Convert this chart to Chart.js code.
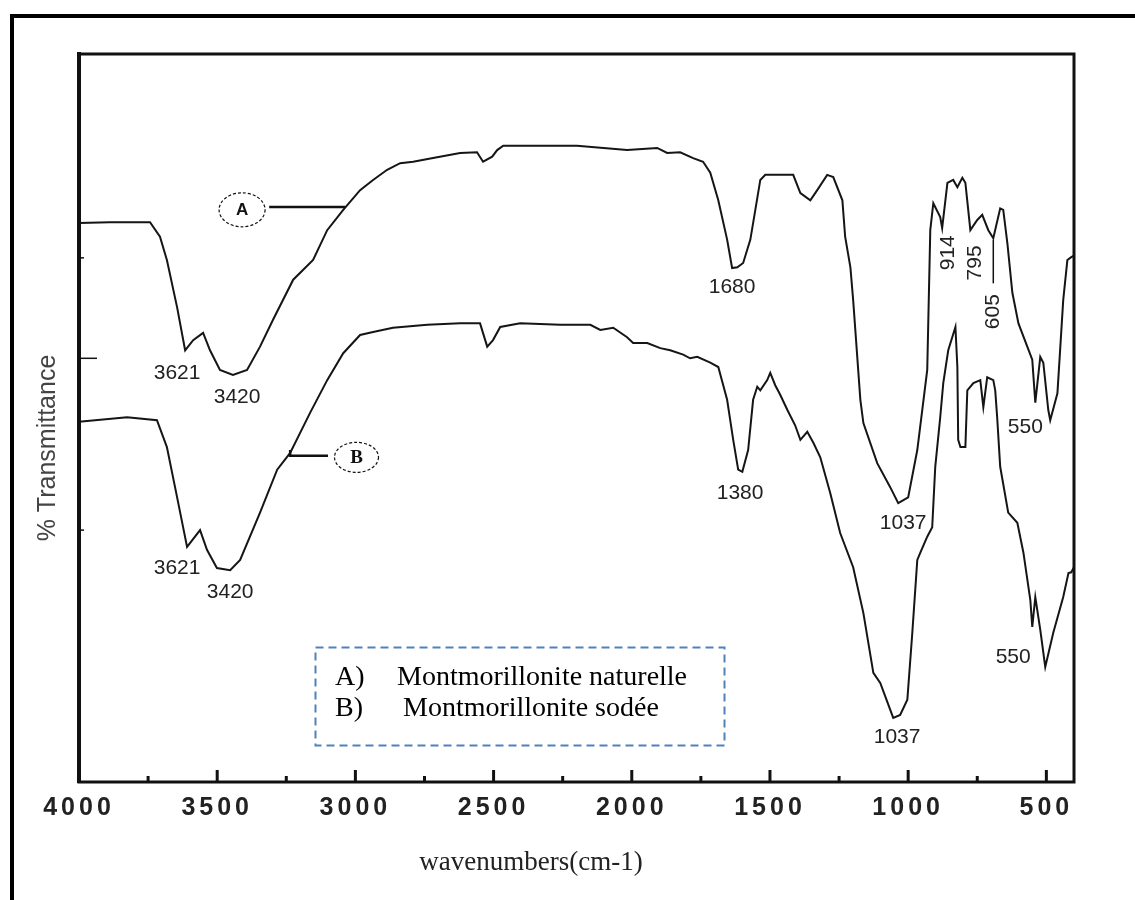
<!DOCTYPE html>
<html>
<head>
<meta charset="utf-8">
<script src="https://cdn.jsdelivr.net/npm/chart.js@4.4.1/dist/chart.umd.min.js"></script>
<style>
html,body{margin:0;padding:0;background:#fff}
#wrap{position:relative;width:1135px;height:900px}
</style>
</head>
<body>
<div id="wrap"><canvas id="c"></canvas></div>
<script>
/* Spectre IR — montmorillonite naturelle (A) / sodée (B) */

var waveA  = [4000,3888,3743,3707,3682,3645,3616,3587,3551,3526,3490,3443,3392,3345,3298,3225,3153,3102,3044,2983,
              2936,2885,2838,2791,2719,2621,2560,2538,2505,2487,2465,2321,2198,2017,1908,1872,1825,1778,1742,1716,
              1687,1655,1637,1618,1597,1571,1553,1535,1517,1416,1390,1354,1329,1293,1271,1238,1228,1209,1199,1173,
              1162,1112,1065,1036,1000,967,931,920,909,884,877,858,837,822,804,793,775,750,732,710,
              692,667,656,641,623,601,569,551,540,522,511,493,486,460,439,424,410,400];
var transA = [76.8,76.9,76.9,74.9,71.7,65.2,59.3,60.7,61.7,59.3,56.6,55.9,56.6,59.8,63.5,69.0,71.7,75.8,78.6,81.3,
              82.7,84.1,85.0,85.2,85.7,86.4,86.5,85.2,85.9,86.8,87.4,87.4,87.4,86.8,87.1,86.4,86.5,85.7,85.2,83.7,
              79.9,74.5,70.6,70.7,71.3,74.5,78.6,82.7,83.4,83.4,80.9,79.9,81.3,83.4,83.1,79.9,74.9,70.7,66.2,52.5,
              49.3,43.8,40.5,38.3,39.1,45.6,56.6,75.8,79.5,77.6,76.1,82.3,82.7,81.7,83.0,82.3,75.8,77.2,77.9,75.8,
              74.7,78.8,78.6,74.0,67.2,63.0,59.8,58.0,52.1,58.4,57.6,51.1,49.7,53.4,66.2,71.7,72.1,72.3];

var waveB  = [4000,3826,3718,3682,3645,3609,3562,3537,3501,3453,3417,3345,3283,3236,3164,3102,3044,2983,2936,2864,
              2740,2621,2549,2523,2502,2476,2404,2259,2150,2114,2067,2017,1995,1944,1897,1861,1814,1789,1763,1716,
              1687,1655,1633,1615,1600,1579,1561,1546,1535,1510,1499,1481,1463,1437,1409,1390,1365,1343,1318,1282,
              1246,1199,1162,1126,1101,1054,1029,1003,985,967,956,931,913,902,884,873,855,829,822,819,
              811,793,786,764,739,728,714,692,685,678,667,638,605,583,558,551,540,522,504,475,
              439,420,410,400];
var transB = [49.5,50.1,49.7,46.0,39.1,32.3,34.6,31.9,29.4,29.1,30.5,37.0,42.9,45.2,50.7,55.2,58.9,61.4,61.8,62.4,
              62.8,63.0,63.0,59.8,60.7,62.5,63.0,62.8,62.8,62.1,62.4,61.1,60.3,60.3,59.6,59.3,58.7,58.2,58.4,57.6,
              57.0,52.5,47.0,42.9,42.6,45.6,52.5,54.3,53.8,55.2,56.2,54.5,53.2,51.1,49.0,47.0,48.1,46.6,44.6,39.7,
              34.2,29.5,23.2,15.0,13.6,8.8,9.2,11.3,20.5,30.5,31.5,33.7,35.0,43.3,50.1,54.8,59.3,62.5,57.0,47.0,
              46.0,46.0,53.8,54.8,55.2,51.5,55.6,55.2,53.8,50.1,43.3,37.0,35.6,31.5,25.0,21.3,25.4,20.9,15.8,20.5,
              25.4,28.7,28.8,29.5];

var xTicks      = [4000,3500,3000,2500,2000,1500,1000,500];
var xMinorTicks = [3750,3250,2750,2250,1750,1250,750];
var yMajorTicks = [58.2];
var yMinorTicks = [72.0,34.6];

var xTitle = 'wavenumbers(cm-1)';
var yTitle = '% Transmittance';
var legendLines = [['A)','Montmorillonite naturelle'],['B)','Montmorillonite sodée']];

// étiquettes des bandes : [texte, nombre d'onde, %T, vertical?]
var peakLabels = [
  ['3621',3645,56.2,false],['3420',3428,52.9,false],
  ['3621',3645,29.4,false],['3420',3453,26.1,false],
  ['1680',1637,68.0,false],['1380',1608,39.7,false],
  ['1037',1018,35.6,false],['1037',1040,6.2,false],
  ['914',855,72.7,true],['795',757,71.3,true],['605',692,64.6,true],
  ['550',576,48.8,false],['550',620,17.2,false]
];

function pts(w,t){ return w.map(function(x,i){ return {x:x, y:t[i]}; }); }

var deco = {
  id:'deco',
  beforeDraw:function(chart){ chart.ctx.letterSpacing = '4px'; },
  beforeDatasetsDraw:function(chart){ chart.ctx.letterSpacing = '0px'; },
  afterDraw:function(chart){
    var ctx = chart.ctx, ca = chart.chartArea;
    var X = function(w){ return chart.scales.x.getPixelForValue(w); };
    var Y = function(v){ return chart.scales.y.getPixelForValue(v); };
    ctx.save();
    ctx.letterSpacing = '0px';
    // cadre extérieur (gauche + haut)
    ctx.fillStyle = '#000';
    ctx.fillRect(10,14,1125,4);
    ctx.fillRect(10,14,4,886);
    // cadre du graphe
    ctx.strokeStyle = '#111';
    ctx.lineWidth = 3;
    ctx.strokeRect(ca.left, ca.top, ca.right-ca.left, ca.bottom-ca.top);
    ctx.lineWidth = 4;
    ctx.beginPath(); ctx.moveTo(ca.left, ca.top-2); ctx.lineTo(ca.left, ca.bottom+1); ctx.stroke();
    // graduations vers l'intérieur
    ctx.lineWidth = 3;
    xTicks.forEach(function(v){ ctx.beginPath(); ctx.moveTo(X(v),ca.bottom); ctx.lineTo(X(v),ca.bottom-12); ctx.stroke(); });
    xMinorTicks.forEach(function(v){ ctx.beginPath(); ctx.moveTo(X(v),ca.bottom); ctx.lineTo(X(v),ca.bottom-6); ctx.stroke(); });
    ctx.lineWidth = 1.5;
    yMajorTicks.forEach(function(v){ ctx.beginPath(); ctx.moveTo(ca.left,Y(v)); ctx.lineTo(ca.left+18,Y(v)); ctx.stroke(); });
    yMinorTicks.forEach(function(v){ ctx.beginPath(); ctx.moveTo(ca.left,Y(v)); ctx.lineTo(ca.left+5,Y(v)); ctx.stroke(); });

    // titres d'axes
    ctx.fillStyle = '#222';
    ctx.font = '27px "Liberation Serif"';
    ctx.textAlign = 'center'; ctx.textBaseline = 'alphabetic';
    ctx.fillText(xTitle, 531, 870);
    ctx.save();
    ctx.translate(48, 448); ctx.rotate(-Math.PI/2);
    ctx.font = '25px "Liberation Sans"'; ctx.fillStyle = '#444';
    ctx.textBaseline = 'middle';
    ctx.fillText(yTitle, 0, 0);
    ctx.restore();

    // étiquettes des bandes
    ctx.font = '21px "Liberation Sans"';
    ctx.fillStyle = '#222';
    ctx.textBaseline = 'middle';
    peakLabels.forEach(function(p){
      if(p[3]){
        ctx.save(); ctx.translate(X(p[1]), Y(p[2])); ctx.rotate(-Math.PI/2);
        ctx.fillText(p[0],0,0); ctx.restore();
      } else ctx.fillText(p[0], X(p[1]), Y(p[2]));
    });

    // repères A / B
    ctx.strokeStyle = '#111'; ctx.lineWidth = 2.5;
    ctx.beginPath(); ctx.moveTo(X(3312),Y(79.0)); ctx.lineTo(X(3037),Y(79.0)); ctx.stroke();
    ctx.beginPath(); ctx.moveTo(X(3236),Y(45.6)); ctx.lineTo(X(3236),Y(44.8)); ctx.lineTo(X(3099),Y(44.8)); ctx.stroke();
    ctx.lineWidth = 1.5;
    ctx.beginPath(); ctx.moveTo(X(692),Y(74.5)); ctx.lineTo(X(692),Y(68.5)); ctx.stroke();
    ctx.lineWidth = 1.2; ctx.setLineDash([3,2]);
    ctx.beginPath(); ctx.ellipse(X(3410),Y(78.6),23,17,0,0,Math.PI*2); ctx.stroke();
    ctx.beginPath(); ctx.ellipse(X(2996),Y(44.6),22,15,0,0,Math.PI*2); ctx.stroke();
    ctx.setLineDash([]);
    ctx.fillStyle = '#111';
    ctx.font = 'bold 17px "Liberation Sans"';
    ctx.fillText('A', X(3410), Y(78.6)+1);
    ctx.font = 'bold 19px "Liberation Serif"';
    ctx.fillText('B', X(2996), Y(44.6)+1);

    // boîte de légende en pointillés
    ctx.strokeStyle = '#4f81bd'; ctx.lineWidth = 2; ctx.setLineDash([8,5]);
    ctx.strokeRect(315.5,647.5,409,98);
    ctx.setLineDash([]);
    ctx.fillStyle = '#000';
    ctx.font = '28px "Liberation Serif"';
    ctx.textAlign = 'left'; ctx.textBaseline = 'alphabetic';
    ctx.fillText(legendLines[0][0], 335, 685);
    ctx.fillText(legendLines[0][1], 397, 685);
    ctx.fillText(legendLines[1][0], 335, 716);
    ctx.fillText(legendLines[1][1], 403, 716);
    ctx.restore();
  }
};

new Chart(document.getElementById('c'), {
  type:'line',
  data:{ datasets:[
    { label:'A', data:pts(waveA,transA), borderColor:'#151515', borderWidth:2, pointRadius:0, tension:0, fill:false },
    { label:'B', data:pts(waveB,transB), borderColor:'#151515', borderWidth:2, pointRadius:0, tension:0, fill:false }
  ]},
  options:{
    responsive:true, maintainAspectRatio:false, animation:false,
    layout:{ padding:{ left:79, right:61, top:54, bottom:0 } },
    plugins:{ legend:{display:false}, tooltip:{enabled:false} },
    scales:{
      x:{ type:'linear', reverse:true, min:400, max:4000,
          afterBuildTicks:function(s){ s.ticks = xTicks.map(function(v){ return {value:v}; }); },
          afterFit:function(s){ s.height = 118; },
          grid:{ display:false, drawTicks:false }, border:{ display:false },
          ticks:{ padding:11, autoSkip:false, maxRotation:0, color:'#222',
                  callback:function(v){ return String(v); },
                  font:{ family:'Liberation Sans', size:25, weight:'bold' } } },
      y:{ display:false, min:0, max:100 }
    }
  },
  plugins:[deco]
});
</script>
</body>
</html>
